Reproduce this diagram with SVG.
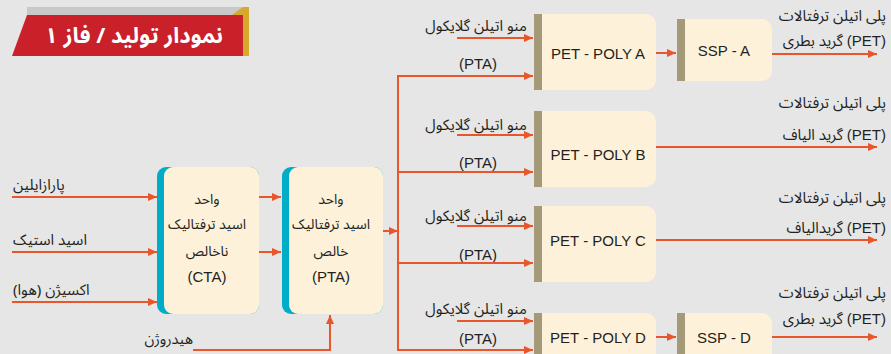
<svg xmlns="http://www.w3.org/2000/svg" width="891" height="354" viewBox="0 0 891 354">
<style>
.fa{font-family:"Noto Sans Arabic","DejaVu Sans",sans-serif;font-size:15px;fill:#231f20;direction:rtl}
.out{font-size:15px}
.bx{font-size:14px}
.en{font-family:"Liberation Sans",Arial,sans-serif;font-size:15px;fill:#231f20}
.cream{fill:#fdf1da}
.strip{fill:#a59a78}
.teal{fill:#00acc6}
.ln{fill:none;stroke:#e9562b;stroke-width:2}
.ar{marker-end:url(#ah)}
</style>
<defs>
<marker id="ah" markerUnits="userSpaceOnUse" markerWidth="9" markerHeight="8" refX="9" refY="4" orient="auto">
<path d="M0,0 L9,4 L0,8 z" fill="#e9562b"/>
</marker>
</defs>
<rect width="891" height="354" fill="#e6e6e6"/>

<g id="title">
<rect x="27" y="7" width="222" height="9" fill="#c8c8c8"/>
<polygon points="27,15 243,15 243,56 12,56" fill="#c9202a"/>
<polygon points="232,15 243,7 249,7 249,56 243,56 243,15" fill="#d6a82c"/>
<text x="134" y="43" text-anchor="middle" style="font-family:'Noto Sans Arabic','DejaVu Sans',sans-serif;font-size:22px;font-weight:bold;fill:#ffffff;direction:rtl">نمودار تولید / فاز ۱</text>
</g>

<g id="inputs">
<text class="fa" x="13" y="190" text-anchor="end">پارازایلین</text>
<text class="fa" x="13" y="245" text-anchor="end">اسید استیک</text>
<text class="fa" x="13" y="295" text-anchor="end">اکسیژن (هوا)</text>
<text class="fa" x="193" y="344" text-anchor="start" style="font-size:14.5px">هیدروژن</text>
</g>

<g id="cta">
<rect class="teal" x="157" y="167" width="102" height="147" rx="9"/>
<rect class="cream" x="164" y="167" width="95" height="147" rx="9"/>
<text class="fa bx" x="207" y="204" text-anchor="middle">واحد</text>
<text class="fa bx" x="207" y="229" text-anchor="middle">اسید ترفتالیک</text>
<text class="fa bx" x="207" y="256" text-anchor="middle">ناخالص</text>
<text class="en" x="207" y="282" text-anchor="middle">(CTA)</text>
</g>

<g id="pta">
<rect class="teal" x="282" y="167" width="101" height="147" rx="9"/>
<rect class="cream" x="289" y="167" width="94" height="147" rx="9"/>
<text class="fa bx" x="331" y="204" text-anchor="middle">واحد</text>
<text class="fa bx" x="331" y="229" text-anchor="middle">اسید ترفتالیک</text>
<text class="fa bx" x="331" y="256" text-anchor="middle">خالص</text>
<text class="en" x="331" y="282" text-anchor="middle">(PTA)</text>
</g>

<g id="polyA">
<path class="cream" d="M534,14 H646 A10,10 0 0 1 656,24 V80 A10,10 0 0 1 646,90 H534 Z"/>
<rect class="strip" x="534" y="14" width="8" height="76"/>
<text class="en" x="598" y="59" text-anchor="middle">PET - POLY A</text>
</g>
<g id="sspA">
<path class="cream" d="M677,19 H762 A10,10 0 0 1 772,29 V71 A10,10 0 0 1 762,81 H677 Z"/>
<rect class="strip" x="677" y="19" width="8" height="62"/>
<text class="en" x="724" y="56" text-anchor="middle">SSP - A</text>
</g>
<g id="polyB">
<path class="cream" d="M534,111 H646 A10,10 0 0 1 656,121 V177 A10,10 0 0 1 646,187 H534 Z"/>
<rect class="strip" x="534" y="111" width="8" height="76"/>
<text class="en" x="598" y="160" text-anchor="middle">PET - POLY B</text>
</g>
<g id="polyC">
<path class="cream" d="M534,206 H646 A10,10 0 0 1 656,216 V272 A10,10 0 0 1 646,282 H534 Z"/>
<rect class="strip" x="534" y="206" width="8" height="76"/>
<text class="en" x="598" y="246" text-anchor="middle">PET - POLY C</text>
</g>
<g id="polyD">
<path class="cream" d="M534,313 H646 A10,10 0 0 1 656,323 V370 H534 Z"/>
<rect class="strip" x="534" y="313" width="8" height="50"/>
<text class="en" x="598" y="343" text-anchor="middle">PET - POLY D</text>
</g>
<g id="sspD">
<path class="cream" d="M677,313 H762 A10,10 0 0 1 772,323 V370 H677 Z"/>
<rect class="strip" x="677" y="313" width="8" height="50"/>
<text class="en" x="724" y="343" text-anchor="middle">SSP - D</text>
</g>

<g id="feed-labels">
<text class="fa" x="527" y="31">منو اتیلن گلایکول</text>
<text class="fa" x="527" y="130">منو اتیلن گلایکول</text>
<text class="fa" x="527" y="221">منو اتیلن گلایکول</text>
<text class="fa" x="527" y="314">منو اتیلن گلایکول</text>
<text class="en" x="478" y="69" text-anchor="middle">(PTA)</text>
<text class="en" x="478" y="168" text-anchor="middle">(PTA)</text>
<text class="en" x="478" y="260" text-anchor="middle">(PTA)</text>
<text class="en" x="478" y="344" text-anchor="middle">(PTA)</text>
</g>

<g id="output-labels">
<text class="fa out" x="886" y="21">پلی اتیلن ترفتالات</text>
<text class="fa out" x="886" y="46"><tspan class="en">(PET)</tspan> گرید بطری</text>
<text class="fa out" x="886" y="108">پلی اتیلن ترفتالات</text>
<text class="fa out" x="886" y="140"><tspan class="en">(PET)</tspan> گرید الیاف</text>
<text class="fa out" x="886" y="203">پلی اتیلن ترفتالات</text>
<text class="fa out" x="886" y="233"><tspan class="en">(PET)</tspan> گریدالیاف</text>
<text class="fa out" x="886" y="298">پلی اتیلن ترفتالات</text>
<text class="fa out" x="886" y="324"><tspan class="en">(PET)</tspan> گرید بطری</text>
</g>

<g id="connectors">
<path class="ln ar" d="M12,197 H157"/>
<path class="ln ar" d="M12,252 H157"/>
<path class="ln ar" d="M12,302 H157"/>
<path class="ln ar" d="M259,197 H281"/>
<path class="ln ar" d="M259,252 H281"/>
<path class="ln ar" d="M193,350 H330 V315"/>
<path class="ln ar" d="M383,231 H398"/>
<path class="ln" d="M398,75 V351"/>
<path class="ln ar" d="M397,76 H533"/>
<path class="ln ar" d="M398,172 H533"/>
<path class="ln ar" d="M398,263 H533"/>
<path class="ln ar" d="M397,350 H533"/>
<path class="ln ar" d="M457,38 H533"/>
<path class="ln ar" d="M457,135 H533"/>
<path class="ln ar" d="M457,226 H533"/>
<path class="ln ar" d="M457,321 H533"/>
<path class="ln ar" d="M656,53 H676"/>
<path class="ln ar" d="M656,337 H676"/>
<path class="ln ar" d="M772,54 H877"/>
<path class="ln ar" d="M656,147 H877"/>
<path class="ln ar" d="M656,240 H877"/>
<path class="ln ar" d="M772,337 H877"/>
</g>
</svg>
